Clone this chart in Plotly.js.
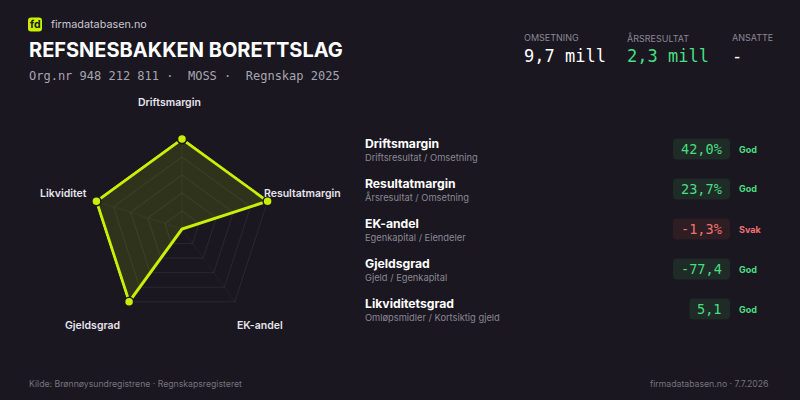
<!DOCTYPE html>
<html><head><meta charset="utf-8">
<script src="https://cdn.plot.ly/plotly-3.0.1.min.js"></script>
<style>html,body{margin:0;padding:0;background:#1a1720;}#chart{width:800px;height:400px;}</style>
</head><body><div id="chart"></div>
<script>
// ---- data ----
const radarAxes = ["Driftsmargin", "Resultatmargin", "EK-andel", "Gjeldsgrad", "Likviditet"];
const radarScores = [100, 100, 0, 100, 100];
const metricNames = ["Driftsmargin", "Resultatmargin", "EK-andel", "Gjeldsgrad", "Likviditetsgrad"];
const metricFormulas = ["Driftsresultat / Omsetning", "Årsresultat / Omsetning", "Egenkapital / Eiendeler", "Gjeld / Egenkapital", "Omløpsmidler / Kortsiktig gjeld"];
const metricValues = ["42,0%", "23,7%", "-1,3%", "-77,4", "5,1"];
const metricStatus = ["God", "God", "Svak", "God", "God"];
const kpiLabels = ["OMSETNING", "ÅRSRESULTAT", "ANSATTE"];
const kpiValues = ["9,7 mill", "2,3 mill", "-"];
const companyName = "REFSNESBAKKEN BORETTSLAG";
const subtitle = "Org.nr 948 212 811\u00a0·\u00a0\u00a0MOSS\u00a0·\u00a0\u00a0Regnskap 2025";

// ---- style ----
const BG = "#1a1720";
const LIME = "#c8f000";
const GREEN = "#4ade80";
const RED = "#f07171";
const SANS = "Inter, 'Noto Sans', sans-serif";
const MONO = "'DejaVu Sans Mono', 'Liberation Mono', monospace";

// polar geometry (pixels); range extends slightly past 100 so the outline isn't clipped
const polarCx = 182, polarCy = 229, polarR100 = 90, rangeMax = 102, labelR = 124;
const polarR = polarR100 * rangeMax / 100;
const labelNudge = [[-13, -3], [3, 2.6], [5.4, -3.6], [-16.4, -3.6], [-1, 2.6]];

const closedTheta = radarAxes.concat([radarAxes[0]]);
const closedR = radarScores.concat([radarScores[0]]);

const trace = {
  type: "scatterpolar",
  r: closedR, theta: closedTheta,
  mode: "lines+markers",
  fill: "toself",
  fillcolor: "rgba(200,240,0,0.13)",
  line: {color: LIME, width: 3},
  marker: {color: LIME, size: 9, line: {color: BG, width: 1.5}},
  cliponaxis: false,
  hoverinfo: "skip"
};

const ann = [];
const shapes = [];
const px = v => v / 800, py = v => 1 - v / 400;
function A(x, y, text, opts) {
  ann.push(Object.assign({xref: "paper", yref: "paper", x: px(x), y: py(y), text: text,
    showarrow: false, xanchor: "left", yanchor: "middle",
    font: {family: SANS, size: 12, color: "#ffffff"}}, opts || {}));
}
function roundRect(x0, y0, x1, y1, r, color) {
  const p = `M${px(x0 + r)},${py(y0)} L${px(x1 - r)},${py(y0)} Q${px(x1)},${py(y0)} ${px(x1)},${py(y0 + r)} ` +
    `L${px(x1)},${py(y1 - r)} Q${px(x1)},${py(y1)} ${px(x1 - r)},${py(y1)} L${px(x0 + r)},${py(y1)} ` +
    `Q${px(x0)},${py(y1)} ${px(x0)},${py(y1 - r)} L${px(x0)},${py(y0 + r)} Q${px(x0)},${py(y0)} ${px(x0 + r)},${py(y0)} Z`;
  shapes.push({type: "path", xref: "paper", yref: "paper", path: p, fillcolor: color, line: {width: 0}, layer: "below"});
}
// logo + brand
roundRect(28, 17.5, 42, 31.5, 3, LIME);
A(35, 24.5, "<b>fd</b>", {xanchor: "center", font: {family: SANS, size: 10.5, color: "#1a1720"}});
A(49, 24.5, "firmadatabasen.no", {font: {family: SANS, size: 10.8, color: "#c9c6d0"}});
A(27, 49.5, "<b>" + companyName + "</b>", {font: {family: SANS, size: 20, color: "#ffffff"}});
A(27, 76, subtitle, {font: {family: MONO, size: 12, color: "#a8a5b0"}});
// KPIs
const kpiX = [523, 626, 731];
const kpiColors = ["#ffffff", GREEN, "#ffffff"];
kpiLabels.forEach((l, i) => {
  A(kpiX[i] - 1, 38, l, {font: {family: SANS, size: 9, color: "#8a8794"}});
  A(kpiX[i] - 1, 56, kpiValues[i], {font: {family: MONO, size: 17, color: kpiColors[i]}});
});
// metric rows
const CH = 8.2; // mono char width at 13.6px
metricNames.forEach((n, i) => {
  const yc = 149 + i * 40;
  const bad = metricStatus[i] !== "God";
  A(363, yc - 5.5, "<b>" + n + "</b>", {font: {family: SANS, size: 12.2, color: "#ffffff"}});
  A(363, yc + 8, metricFormulas[i], {font: {family: SANS, size: 9.3, color: "#8a8794"}});
  const w = metricValues[i].length * CH + 16;
  roundRect(730 - w, yc - 10.5, 730, yc + 10.5, 4, bad ? "#2e1d23" : "#1e2b27");
  A(730 - w / 2, yc, metricValues[i], {xanchor: "center",
    font: {family: MONO, size: 13.6, color: bad ? RED : GREEN}});
  A(737, yc, "<b>" + metricStatus[i] + "</b>", {font: {family: SANS, size: 9, color: bad ? RED : GREEN}});
});
// radar axis labels, placed around the polar centre
radarAxes.forEach((l, i) => {
  const ang = (90 - i * 72) * Math.PI / 180;
  A(polarCx + labelR * Math.cos(ang) + labelNudge[i][0], polarCy - labelR * Math.sin(ang) + labelNudge[i][1], l,
    {xanchor: "center", font: {family: SANS, size: 10.5, weight: 600, color: "#e6e4ec"}});
});
// footer
A(27, 384, "Kilde: Brønnøysundregistrene · Regnskapsregisteret", {font: {family: SANS, size: 8.7, color: "#77737f"}});
A(770, 384, "firmadatabasen.no · 7.7.2026", {xanchor: "right", font: {family: SANS, size: 8.7, color: "#77737f"}});

const layout = {
  width: 800, height: 400,
  paper_bgcolor: BG, plot_bgcolor: BG,
  margin: {l: 0, r: 0, t: 0, b: 0},
  showlegend: false,
  polar: {
    domain: {x: [(polarCx - polarR) / 800, (polarCx + polarR) / 800],
             y: [1 - (polarCy + polarR) / 400, 1 - (polarCy - polarR) / 400]},
    bgcolor: BG,
    gridshape: "linear",
    radialaxis: {range: [0, rangeMax], tickvals: [20, 40, 60, 80, 100], showticklabels: false,
      ticks: "", showline: false, gridcolor: "rgba(255,255,255,0.07)", gridwidth: 1},
    angularaxis: {rotation: 90, direction: "clockwise", showline: false, showticklabels: false,
      ticks: "", gridcolor: "rgba(255,255,255,0.04)"}
  },
  shapes: shapes,
  annotations: ann
};
Plotly.newPlot("chart", [trace], layout, {displayModeBar: false, staticPlot: true});
</script></body></html>
